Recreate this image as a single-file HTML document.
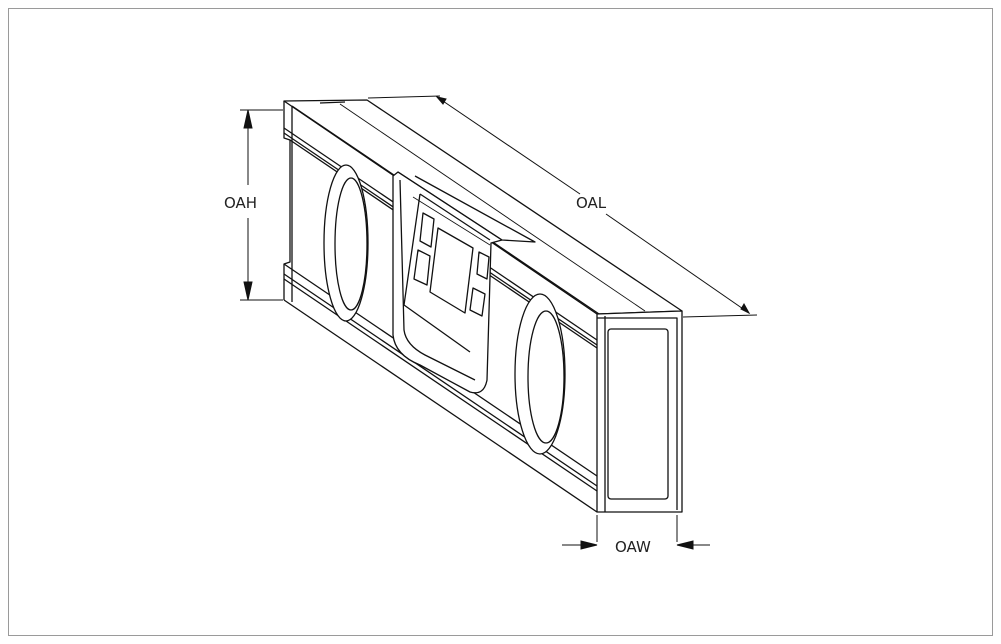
<!DOCTYPE html>
<html><head><meta charset="utf-8"><style>
html,body{margin:0;padding:0;background:#fff;}
svg{display:block;}
text{font-family:"DejaVu Sans","Liberation Sans",sans-serif;font-size:15px;fill:#222;}
</style></head><body>
<svg width="1001" height="644" viewBox="0 0 1001 644" xmlns="http://www.w3.org/2000/svg">
<rect x="8.5" y="8.5" width="984" height="627" fill="#fff" stroke="#9a9a9a" stroke-width="1"/>
<g fill="none" stroke="#111" stroke-width="1.3" stroke-linejoin="round">
<!-- top face -->
<path d="M284,101 L367,100 L682,311 L597,314 Z" fill="#fff"/>
<path d="M292,106 L602,316"/>
<path d="M340,104 L645,311" stroke-width="0.9"/>
<path d="M320,103 L345,102"/>
<!-- left edge -->
<path d="M284,101 L284,138 L290,140 L290,262 L284,264 L284,300"/>
<path d="M292,106 L292,302"/>
<!-- top rail grooves on front face -->
<path d="M284,128 L597,340"/>
<path d="M284,133 L597,345"/>
<path d="M290,140 L597,348"/>
<!-- bottom rail grooves -->
<path d="M284,264 L597,476"/>
<path d="M284,274 L597,486"/>
<path d="M284,279 L597,491"/>
<path d="M284,300 L597,512"/>
<!-- left lens -->
<ellipse cx="346" cy="243" rx="22" ry="78" fill="#fff"/>
<ellipse cx="351" cy="244" rx="16" ry="66"/>
<!-- right lens -->
<ellipse cx="540" cy="374" rx="25" ry="80" fill="#fff"/>
<ellipse cx="546" cy="377" rx="18" ry="66"/>
<!-- display bezel -->
<path d="M393,176 L393,335 Q395,355 420,365 L470,392 Q484,396 487,380 L491,243 L502,240 L398,172 Z" fill="#fff"/>
<path d="M398,172 L502,240 L535,242 L415,176"/>
<path d="M400,180 L404,330 Q406,345 425,355 L475,380"/>
<path d="M420,194 L490,240"/>
<path d="M420,194 L404,305 L470,352"/>
<path d="M413,197 L490,245" stroke-width="0.8"/>
<!-- screen -->
<path d="M438,228 L473,248 L465,313 L430,292 Z" fill="#fff"/>
<!-- buttons -->
<path d="M423,213 L434,219 L431,247 L420,241 Z" fill="#fff"/>
<path d="M418,250 L430,256 L427,285 L414,279 Z" fill="#fff"/>
<path d="M479,252 L489,257 L487,279 L477,274 Z" fill="#fff"/>
<path d="M473,288 L485,294 L482,316 L470,310 Z" fill="#fff"/>
<!-- end cap -->
<path d="M597,314 L682,311 L682,512 L597,512 Z" fill="#fff"/>
<path d="M605,316 L605,512"/>
<path d="M597,318 L677,318 L677,510"/>
<rect x="608" y="329" width="60" height="170" rx="3"/>
</g>
<g fill="#111" stroke="#111" stroke-width="1">
<!-- OAH -->
<line x1="240" y1="110" x2="283" y2="110"/>
<line x1="240" y1="300" x2="283" y2="300"/>
<line x1="248" y1="110" x2="248" y2="185"/>
<line x1="248" y1="218" x2="248" y2="300"/>
<path d="M248,110 L244,128 L252,128 Z"/>
<path d="M248,300 L244,282 L252,282 Z"/>
<!-- OAL -->
<line x1="368" y1="98" x2="440" y2="96"/>
<line x1="683" y1="317" x2="757" y2="315"/>
<line x1="437" y1="97" x2="580" y2="194"/>
<line x1="606" y1="214" x2="749" y2="313"/>
<path d="M437,97 L443,104 L446,99 Z"/>
<path d="M749,313 L741,309 L744,304 Z"/>
<!-- OAW -->
<line x1="597" y1="515" x2="597" y2="542"/>
<line x1="677" y1="515" x2="677" y2="542"/>
<line x1="562" y1="545" x2="597" y2="545"/>
<line x1="677" y1="545" x2="710" y2="545"/>
<path d="M597,545 L581,541 L581,549 Z"/>
<path d="M677,545 L693,541 L693,549 Z"/>
</g>
<text x="224" y="208">OAH</text>
<text x="576" y="208">OAL</text>
<text x="615" y="552">OAW</text>
</svg>
</body></html>
